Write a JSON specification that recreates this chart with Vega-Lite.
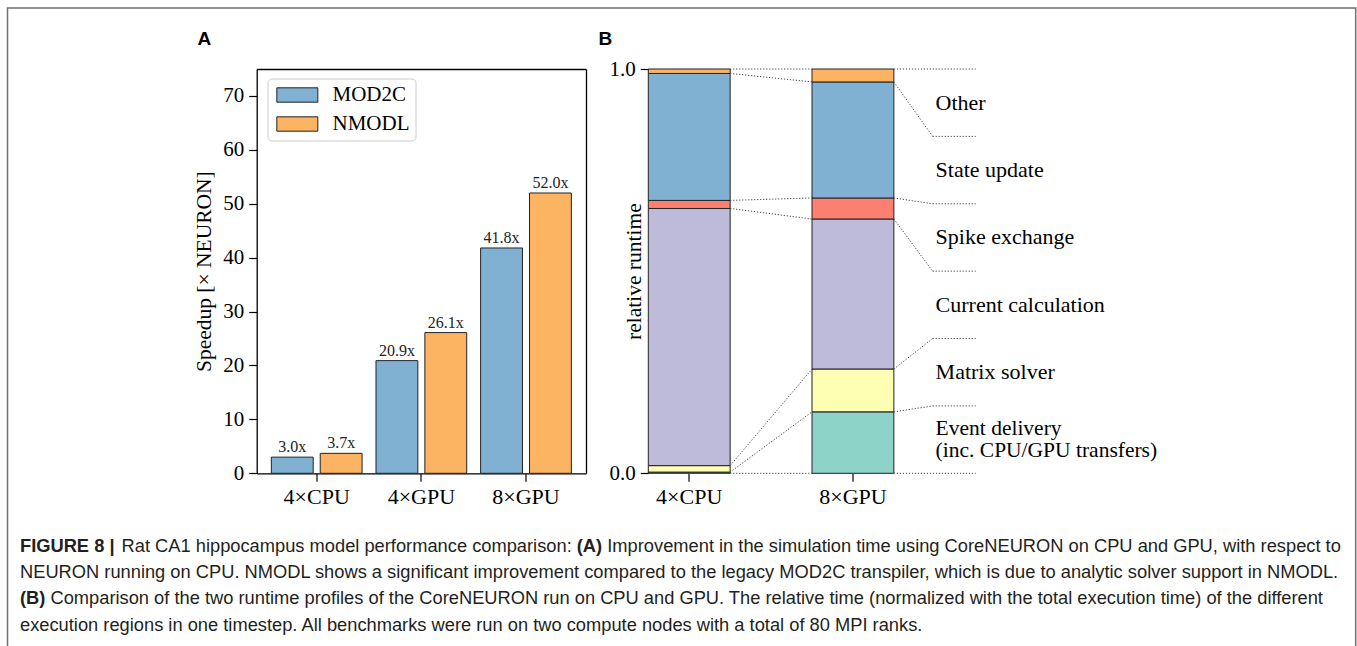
{
  "$schema": "https://vega.github.io/schema/vega-lite/v6.json",
  "width": 1348.2,
  "height": 645,
  "autosize": {"type": "none"},
  "padding": {"left": 7.5, "top": 8, "right": 1.3, "bottom": 0},
  "background": "white",
  "config": {
    "font": "Liberation Serif",
    "view": {"stroke": "#707070", "strokeWidth": 1.5},
    "axis": {
      "grid": false,
      "labelFont": "Liberation Serif",
      "labelFontSize": 21,
      "labelColor": "black",
      "titleFont": "Liberation Serif",
      "titleFontSize": 21.5,
      "titleColor": "black",
      "titleFontWeight": "normal",
      "tickColor": "black",
      "tickSize": 8,
      "tickWidth": 1.2,
      "domainColor": "black",
      "domainWidth": 1.3,
      "labelPadding": 5,
      "labelFlush": false,
      "labelOverlap": false,
      "labelAngle": 0
    }
  },
  "title": {
    "text": [
      "FIGURE 8 |\u00a0\u00a0\u00a0\u00a0\u00a0\u00a0\u00a0\u00a0\u00a0\u00a0\u00a0\u00a0\u00a0\u00a0\u00a0\u00a0\u00a0\u00a0\u00a0\u00a0\u00a0\u00a0\u00a0\u00a0\u00a0\u00a0\u00a0\u00a0\u00a0\u00a0\u00a0\u00a0\u00a0\u00a0\u00a0\u00a0\u00a0\u00a0\u00a0\u00a0\u00a0\u00a0\u00a0\u00a0\u00a0\u00a0\u00a0\u00a0\u00a0\u00a0\u00a0\u00a0\u00a0\u00a0\u00a0\u00a0\u00a0\u00a0\u00a0\u00a0\u00a0\u00a0\u00a0\u00a0\u00a0\u00a0\u00a0\u00a0\u00a0\u00a0\u00a0\u00a0\u00a0\u00a0\u00a0\u00a0\u00a0\u00a0\u00a0\u00a0\u00a0\u00a0\u00a0\u00a0\u00a0\u00a0\u00a0\u00a0\u00a0\u00a0\u00a0(A)",
      "(B)"
    ],
    "subtitle": [
      "\u200b\u00a0\u00a0\u00a0\u00a0\u00a0\u00a0\u00a0\u00a0\u00a0\u00a0\u00a0\u00a0\u00a0\u00a0\u00a0\u00a0\u00a0\u00a0\u00a0\u00a0Rat CA1 hippocampus model performance comparison:\u00a0\u00a0\u00a0\u00a0\u00a0\u00a0\u00a0Improvement in the simulation time using CoreNEURON on CPU and GPU, with respect to",
      "NEURON running on CPU. NMODL shows a significant improvement compared to the legacy MOD2C transpiler, which is due to analytic solver support in NMODL.",
      "\u200b\u00a0\u00a0\u00a0\u00a0\u00a0\u00a0Comparison of the two runtime profiles of the CoreNEURON run on CPU and GPU. The relative time (normalized with the total execution time) of the different",
      "execution regions in one timestep. All benchmarks were run on two compute nodes with a total of 80 MPI ranks."
    ],
    "orient": "bottom",
    "anchor": "start",
    "frame": "group",
    "offset": -115.3,
    "dx": 12.5,
    "baseline": "top",
    "font": "Liberation Sans",
    "fontSize": 18.3,
    "fontWeight": "bold",
    "color": "#231f20",
    "lineHeight": 52.6,
    "subtitleFont": "Liberation Sans",
    "subtitleFontSize": 18.3,
    "subtitleFontWeight": "normal",
    "subtitleColor": "#231f20",
    "subtitleLineHeight": 26.3,
    "subtitlePadding": -70.9
  },
  "datasets": {
    "speed": [
      {"config": "4×CPU", "impl": "MOD2C", "speedup": 3.0, "label": "3.0x"},
      {"config": "4×CPU", "impl": "NMODL", "speedup": 3.7, "label": "3.7x"},
      {"config": "4×GPU", "impl": "MOD2C", "speedup": 20.9, "label": "20.9x"},
      {"config": "4×GPU", "impl": "NMODL", "speedup": 26.1, "label": "26.1x"},
      {"config": "8×GPU", "impl": "MOD2C", "speedup": 41.8, "label": "41.8x"},
      {"config": "8×GPU", "impl": "NMODL", "speedup": 52.0, "label": "52.0x"}
    ],
    "profile": [
      {"cat": "4×CPU", "region": "Event delivery\n(inc. CPU/GPU transfers)", "order": 1, "frac": 0.003},
      {"cat": "4×CPU", "region": "Matrix solver", "order": 2, "frac": 0.016},
      {"cat": "4×CPU", "region": "Current calculation", "order": 3, "frac": 0.636},
      {"cat": "4×CPU", "region": "Spike exchange", "order": 4, "frac": 0.020},
      {"cat": "4×CPU", "region": "State update", "order": 5, "frac": 0.314},
      {"cat": "4×CPU", "region": "Other", "order": 6, "frac": 0.011},
      {"cat": "8×GPU", "region": "Event delivery\n(inc. CPU/GPU transfers)", "order": 1, "frac": 0.152},
      {"cat": "8×GPU", "region": "Matrix solver", "order": 2, "frac": 0.106},
      {"cat": "8×GPU", "region": "Current calculation", "order": 3, "frac": 0.371},
      {"cat": "8×GPU", "region": "Spike exchange", "order": 4, "frac": 0.052},
      {"cat": "8×GPU", "region": "State update", "order": 5, "frac": 0.287},
      {"cat": "8×GPU", "region": "Other", "order": 6, "frac": 0.032}
    ]
  },
  "layer": [
    {
      "data": {"name": "speed"},
      "layer": [
        {
          "mark": {"type": "bar", "stroke": "#222", "strokeWidth": 1},
          "encoding": {
            "x": {
              "field": "config", "type": "nominal", "sort": null,
              "scale": {"domain": ["4×CPU", "4×GPU", "8×GPU"], "range": [249.2, 578.5], "paddingInner": 0.133, "paddingOuter": 0.14},
              "axis": {"orient": "bottom", "offset": -179.7, "title": null, "labelFontSize": 22}
            },
            "xOffset": {
              "field": "impl", "type": "nominal",
              "scale": {"domain": ["MOD2C", "NMODL"], "paddingInner": 0.144, "paddingOuter": 0}
            },
            "y": {
              "field": "speedup", "type": "quantitative",
              "scale": {"domain": [0, 75], "range": [465.3, 61], "nice": false},
              "axis": {"orient": "left", "offset": -249.2, "values": [0, 10, 20, 30, 40, 50, 60, 70], "title": "Speedup [× NEURON]", "titleX": -52.5, "titleBaseline": "middle"}
            },
            "color": {
              "field": "impl", "type": "nominal",
              "scale": {"domain": ["MOD2C", "NMODL"], "range": ["#80b1d3", "#fdb462"]},
              "legend": {
                "orient": "none", "legendX": 260, "legendY": 70.5, "title": null,
                "symbolType": "M-1,-1H4.714V1H-1Z", "symbolSize": 206,
                "symbolStrokeColor": "#222", "symbolStrokeWidth": 1, "symbolOpacity": 1,
                "labelFont": "Liberation Serif", "labelFontSize": 21, "labelColor": "black",
                "labelOffset": 38, "padding": 6, "rowPadding": 7,
                "fillColor": "white", "strokeColor": "#cccccc", "cornerRadius": 4
              }
            }
          }
        },
        {
          "mark": {"type": "text", "font": "Liberation Serif", "fontSize": 16, "baseline": "alphabetic", "dy": -5, "color": "#222"},
          "encoding": {
            "x": {
              "field": "config", "type": "nominal",
              "axis": {"orient": "top", "offset": -61, "ticks": false, "labels": false, "domain": true, "title": "A", "titleFont": "Liberation Sans", "titleFontWeight": "bold", "titleFontSize": 19, "titleX": 189.5, "titleY": -30.5, "titleAlign": "left", "titleBaseline": "middle", "titleAngle": 0}
            },
            "xOffset": {"field": "impl", "type": "nominal"},
            "y": {
              "field": "speedup", "type": "quantitative",
              "axis": {"orient": "right", "offset": -769.7, "ticks": false, "labels": false, "domain": true, "title": "B", "titleFont": "Liberation Sans", "titleFontWeight": "bold", "titleFontSize": 19, "titleX": 12, "titleY": 30.5, "titleAlign": "left", "titleBaseline": "middle", "titleAngle": 0}
            },
            "text": {"field": "label"}
          }
        }
      ]
    },
    {
      "data": {"name": "profile"},
      "mark": {"type": "bar", "stroke": "#222", "strokeWidth": 1},
      "encoding": {
        "x": {
          "field": "cat", "type": "nominal",
          "scale": {"domain": ["4×CPU", "8×GPU"], "range": [640.8, 969.2], "paddingInner": 0.5, "paddingOuter": 0.253, "align": 0},
          "axis": {"orient": "bottom", "offset": -179.7, "domain": false, "title": null, "labelFontSize": 22}
        },
        "y": {
          "field": "frac", "type": "quantitative", "stack": "zero",
          "scale": {"domain": [0, 1], "range": [465.3, 61], "nice": false},
          "axis": {"orient": "left", "offset": -640.8, "values": [0, 1], "format": ".1f", "domain": false, "title": "relative runtime", "titleX": -13.5, "titleBaseline": "middle"}
        },
        "color": {
          "field": "region", "type": "nominal",
          "scale": {
            "domain": ["Event delivery\n(inc. CPU/GPU transfers)", "Matrix solver", "Current calculation", "Spike exchange", "State update", "Other"],
            "range": ["#8dd3c7", "#ffffb3", "#bebada", "#fb8072", "#80b1d3", "#fdb462"]
          },
          "legend": null
        },
        "order": {"field": "order", "type": "quantitative"}
      }
    },
    {
      "data": {"name": "profile"},
      "transform": [
        {"window": [{"op": "sum", "field": "frac", "as": "top"}], "sort": [{"field": "order"}], "groupby": ["cat"]},
        {"pivot": "cat", "value": "top", "groupby": ["region", "order"]},
        {"window": [{"op": "cume_dist", "as": "slot"}], "sort": [{"field": "order"}]}
      ],
      "layer": [
        {
          "mark": {"type": "rule", "stroke": "#444", "strokeWidth": 1, "strokeDash": [1.2, 1.8]},
          "encoding": {
            "x": {
              "datum": "4×CPU", "type": "nominal", "bandPosition": 1,
              "scale": {"domain": ["4×CPU", "8×GPU"], "range": [640.8, 969.2], "paddingInner": 0.5, "paddingOuter": 0.253, "align": 0},
              "axis": null
            },
            "x2": {"datum": "8×GPU", "bandPosition": 0},
            "y": {"field": "4×CPU", "type": "quantitative", "scale": {"domain": [0, 1], "range": [465.3, 61], "nice": false}, "axis": null},
            "y2": {"field": "8×GPU"}
          }
        },
        {
          "mark": {"type": "rule", "stroke": "#444", "strokeWidth": 1, "strokeDash": [1.2, 1.8]},
          "encoding": {
            "x": {"datum": "8×GPU", "type": "nominal", "bandPosition": 1, "axis": null},
            "x2": {"datum": "8×GPU", "bandPosition": 1.474},
            "y": {"field": "8×GPU", "type": "quantitative", "axis": null},
            "y2": {"field": "slot"}
          }
        },
        {
          "mark": {"type": "rule", "stroke": "#444", "strokeWidth": 1, "strokeDash": [1.2, 1.8]},
          "encoding": {
            "x": {"datum": "8×GPU", "type": "nominal", "bandPosition": 1.474, "axis": null},
            "x2": {"datum": "8×GPU", "bandPosition": 2.0},
            "y": {"field": "slot", "type": "quantitative", "axis": null}
          }
        },
        {
          "transform": [{"filter": {"field": "order", "gt": 1}}],
          "mark": {"type": "text", "font": "Liberation Serif", "fontSize": 22, "align": "left", "baseline": "middle", "dy": 33.7, "color": "black"},
          "encoding": {
            "x": {"datum": "8×GPU", "type": "nominal", "bandPosition": 1.51, "axis": null},
            "y": {"field": "slot", "type": "quantitative", "axis": null},
            "text": {"field": "region"}
          }
        },
        {
          "transform": [{"filter": {"field": "order", "equal": 1}}],
          "layer": [
            {
              "mark": {"type": "text", "font": "Liberation Serif", "fontSize": 21.5, "align": "left", "baseline": "middle", "dy": 22.7, "lineBreak": "\n", "lineHeight": 22, "color": "black"},
              "encoding": {
                "x": {"datum": "8×GPU", "type": "nominal", "bandPosition": 1.51, "axis": null},
                "y": {"field": "slot", "type": "quantitative", "axis": null},
                "text": {"field": "region"}
              }
            },
            {
              "mark": {"type": "rule", "stroke": "#444", "strokeWidth": 1, "strokeDash": [1.2, 1.8]},
              "encoding": {
                "x": {"datum": "4×CPU", "type": "nominal", "bandPosition": 1, "axis": null},
                "x2": {"datum": "8×GPU", "bandPosition": 0},
                "y": {"datum": 0, "type": "quantitative", "axis": null}
              }
            },
            {
              "mark": {"type": "rule", "stroke": "#444", "strokeWidth": 1, "strokeDash": [1.2, 1.8]},
              "encoding": {
                "x": {"datum": "8×GPU", "type": "nominal", "bandPosition": 1, "axis": null},
                "x2": {"datum": "8×GPU", "bandPosition": 2.0},
                "y": {"datum": 0, "type": "quantitative", "axis": null}
              }
            }
          ]
        }
      ]
    }
  ],
  "resolve": {
    "scale": {"x": "independent", "y": "independent", "color": "independent"},
    "axis": {"x": "independent", "y": "independent"}
  }
}
